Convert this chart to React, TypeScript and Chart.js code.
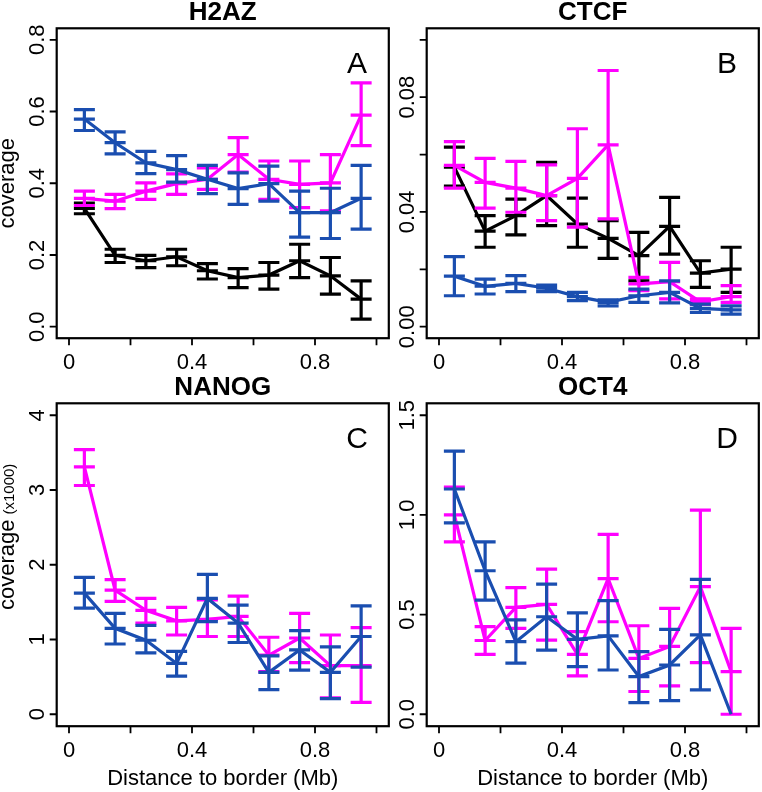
import React, { useEffect, useRef } from "react";
import { Chart, registerables } from "chart.js";

Chart.register(...registerables);

const PAGE_W = 762;
const PAGE_H = 792;
const FONT = '"Liberation Sans", Arial, Helvetica, sans-serif';

const MAGENTA = "#FF00FF";
const BLUE = "#1A4EB0";
const BLACK = "#000000";

// Distance to border (Mb) bin centres
const distances = [0.05, 0.15, 0.25, 0.35, 0.45, 0.55, 0.65, 0.75, 0.85, 0.95];

const xTicks = [0, 0.2, 0.4, 0.6, 0.8, 1.0];
const xTickLabels = ["0", "", "0.4", "", "0.8", ""];

// ---- Panel A: H2AZ ----
const h2azBlack = [0.33, 0.199, 0.184, 0.195, 0.156, 0.137, 0.144, 0.184, 0.142, 0.077];
const h2azBlackLow = [0.315, 0.179, 0.165, 0.17, 0.133, 0.109, 0.105, 0.137, 0.091, 0.021];
const h2azBlackHigh = [0.345, 0.216, 0.199, 0.216, 0.176, 0.162, 0.179, 0.23, 0.193, 0.128];
const h2azMagenta = [0.358, 0.35, 0.378, 0.399, 0.411, 0.48, 0.411, 0.397, 0.401, 0.59];
const h2azMagentaLow = [0.338, 0.329, 0.355, 0.369, 0.383, 0.431, 0.355, 0.332, 0.323, 0.505];
const h2azMagentaHigh = [0.378, 0.369, 0.401, 0.426, 0.443, 0.527, 0.462, 0.462, 0.48, 0.68];
const h2azBlue = [0.579, 0.513, 0.457, 0.438, 0.411, 0.385, 0.399, 0.318, 0.318, 0.358];
const h2azBlueLow = [0.547, 0.482, 0.427, 0.403, 0.371, 0.341, 0.35, 0.25, 0.246, 0.272];
const h2azBlueHigh = [0.605, 0.543, 0.489, 0.477, 0.45, 0.429, 0.448, 0.378, 0.386, 0.45];
const h2azYTicks = [0, 0.2, 0.4, 0.6, 0.8];
const h2azYTickLabels = ["0.0", "0.2", "0.4", "0.6", "0.8"];

// ---- Panel B: CTCF ----
const ctcfBlack = [0.0556, 0.0333, 0.0387, 0.0457, 0.0358, 0.0308, 0.0248, 0.035, 0.0187, 0.0201];
const ctcfBlackLow = [0.049, 0.0277, 0.032, 0.0352, 0.0277, 0.0238, 0.016, 0.0253, 0.0137, 0.012];
const ctcfBlackHigh = [0.0626, 0.0387, 0.0445, 0.0573, 0.0448, 0.037, 0.0329, 0.0451, 0.023, 0.0277];
const ctcfMagenta = [0.0562, 0.0503, 0.0483, 0.0457, 0.0517, 0.0634, 0.0149, 0.0157, 0.0087, 0.0105];
const ctcfMagentaLow = [0.0483, 0.0413, 0.0399, 0.037, 0.0347, 0.0376, 0.0126, 0.0097, 0.0078, 0.0085];
const ctcfMagentaHigh = [0.0645, 0.0587, 0.0576, 0.0564, 0.069, 0.0893, 0.0172, 0.0224, 0.0097, 0.0143];
const ctcfBlue = [0.0176, 0.0141, 0.0151, 0.0134, 0.0105, 0.0085, 0.0108, 0.012, 0.0064, 0.0059];
const ctcfBlueLow = [0.0108, 0.0114, 0.0122, 0.0122, 0.0091, 0.0073, 0.0085, 0.0083, 0.005, 0.0044];
const ctcfBlueHigh = [0.0244, 0.0166, 0.0178, 0.0145, 0.012, 0.0094, 0.0131, 0.016, 0.0079, 0.0073];
const ctcfYTicks = [0, 0.02, 0.04, 0.06, 0.08, 0.1];
const ctcfYTickLabels = ["0.00", "", "0.04", "", "0.08", ""];

// ---- Panel C: NANOG ----
const nanogMagenta = [3.31, 1.66, 1.39, 1.25, 1.27, 1.31, 0.79, 1.02, 0.65, 0.65];
const nanogMagentaLow = [3.06, 1.51, 1.22, 1.06, 1.04, 1.04, 0.57, 0.69, 0.22, 0.16];
const nanogMagentaHigh = [3.54, 1.8, 1.55, 1.43, 1.53, 1.58, 1.03, 1.35, 1.06, 1.16];
const nanogBlue = [1.62, 1.15, 0.99, 0.68, 1.55, 1.22, 0.56, 0.86, 0.56, 1.04];
const nanogBlueLow = [1.42, 0.94, 0.82, 0.51, 1.24, 0.96, 0.33, 0.59, 0.21, 0.63];
const nanogBlueHigh = [1.83, 1.35, 1.19, 0.84, 1.87, 1.46, 0.78, 1.12, 0.9, 1.45];
const nanogYTicks = [0, 1, 2, 3, 4];
const nanogYTickLabels = ["0", "1", "2", "3", "4"];

// ---- Panel D: OCT4 ----
const oct4Magenta = [1.0, 0.37, 0.536, 0.551, 0.3, 0.68, 0.28, 0.34, 0.64, 0.214];
const oct4MagentaLow = [0.865, 0.3, 0.431, 0.372, 0.192, 0.464, 0.114, 0.142, 0.259, 0.0];
const oct4MagentaHigh = [1.14, 0.44, 0.635, 0.728, 0.414, 0.902, 0.444, 0.531, 1.024, 0.431];
const oct4Blue = [1.13, 0.72, 0.364, 0.489, 0.376, 0.393, 0.189, 0.247, 0.398, 0.0];
const oct4BlueLow = [0.96, 0.573, 0.256, 0.322, 0.239, 0.222, 0.058, 0.068, 0.122, null];
const oct4BlueHigh = [1.32, 0.865, 0.473, 0.653, 0.509, 0.57, 0.314, 0.426, 0.677, null];
const oct4YTicks = [0, 0.5, 1.0, 1.5];
const oct4YTickLabels = ["0.0", "0.5", "1.0", "1.5"];

type Series = { color: string; mean: number[]; low: (number | null)[]; high: (number | null)[]; order: number };

type Panel = {
  title: string;
  letter: string;
  ylim: [number, number];
  yTicks: number[];
  yTickLabels: string[];
  box: { left: number; top: number; right: number; bottom: number };
  yTitle: boolean;
  yTitleSuffix: string;
  xTitle: boolean;
  series: Series[];
};

const TOP_ROW = { top: 28.3, bottom: 338.2 };
const BOTTOM_ROW = { top: 403.3, bottom: 726.2 };
const LEFT_COL = { left: 56.7, right: 388.8 };
const RIGHT_COL = { left: 426.7, right: 758.8 };

const panels: Panel[] = [
  {
    title: "H2AZ",
    letter: "A",
    ylim: [0, 0.8],
    yTicks: h2azYTicks,
    yTickLabels: h2azYTickLabels,
    box: { ...LEFT_COL, ...TOP_ROW },
    yTitle: true,
    yTitleSuffix: "",
    xTitle: false,
    series: [
      { color: BLACK, mean: h2azBlack, low: h2azBlackLow, high: h2azBlackHigh, order: 3 },
      { color: MAGENTA, mean: h2azMagenta, low: h2azMagentaLow, high: h2azMagentaHigh, order: 2 },
      { color: BLUE, mean: h2azBlue, low: h2azBlueLow, high: h2azBlueHigh, order: 1 },
    ],
  },
  {
    title: "CTCF",
    letter: "B",
    ylim: [0, 0.1],
    yTicks: ctcfYTicks,
    yTickLabels: ctcfYTickLabels,
    box: { ...RIGHT_COL, ...TOP_ROW },
    yTitle: false,
    yTitleSuffix: "",
    xTitle: false,
    series: [
      { color: BLACK, mean: ctcfBlack, low: ctcfBlackLow, high: ctcfBlackHigh, order: 3 },
      { color: MAGENTA, mean: ctcfMagenta, low: ctcfMagentaLow, high: ctcfMagentaHigh, order: 2 },
      { color: BLUE, mean: ctcfBlue, low: ctcfBlueLow, high: ctcfBlueHigh, order: 1 },
    ],
  },
  {
    title: "NANOG",
    letter: "C",
    ylim: [0, 4],
    yTicks: nanogYTicks,
    yTickLabels: nanogYTickLabels,
    box: { ...LEFT_COL, ...BOTTOM_ROW },
    yTitle: true,
    yTitleSuffix: "(x1000)",
    xTitle: true,
    series: [
      { color: MAGENTA, mean: nanogMagenta, low: nanogMagentaLow, high: nanogMagentaHigh, order: 2 },
      { color: BLUE, mean: nanogBlue, low: nanogBlueLow, high: nanogBlueHigh, order: 1 },
    ],
  },
  {
    title: "OCT4",
    letter: "D",
    ylim: [0, 1.5],
    yTicks: oct4YTicks,
    yTickLabels: oct4YTickLabels,
    box: { ...RIGHT_COL, ...BOTTOM_ROW },
    yTitle: false,
    yTitleSuffix: "",
    xTitle: true,
    series: [
      { color: MAGENTA, mean: oct4Magenta, low: oct4MagentaLow, high: oct4MagentaHigh, order: 2 },
      { color: BLUE, mean: oct4Blue, low: oct4BlueLow, high: oct4BlueHigh, order: 1 },
    ],
  },
];

const CAP_HALF = 10.5;
const LINE_W = 3.2;

const errorBarPlugin = {
  id: "errorBars",
  afterDatasetDraw(chart: any, args: any) {
    const ds = chart.data.datasets[args.index];
    const xs = chart.scales.x;
    const ys = chart.scales.y;
    const ctx = chart.ctx;
    ctx.save();
    ctx.strokeStyle = ds.borderColor;
    ctx.lineWidth = LINE_W;
    ctx.lineCap = "butt";
    ds.data.forEach((p: any, i: number) => {
      const lo = ds.errLow[i];
      const hi = ds.errHigh[i];
      if (lo == null || hi == null) return;
      const x = xs.getPixelForValue(p.x);
      const yl = ys.getPixelForValue(lo);
      const yh = ys.getPixelForValue(hi);
      const ym = ys.getPixelForValue(p.y);
      ctx.beginPath();
      ctx.moveTo(x, yl);
      ctx.lineTo(x, yh);
      for (const y of [yl, ym, yh]) {
        ctx.moveTo(x - CAP_HALF, y);
        ctx.lineTo(x + CAP_HALF, y);
      }
      ctx.stroke();
    });
    ctx.restore();
  },
};

const framePlugin = {
  id: "rFrame",
  afterDraw(chart: any) {
    const panel: Panel = chart.options.plugins.rFrame.panel;
    const ctx = chart.ctx;
    const xs = chart.scales.x;
    const ys = chart.scales.y;
    const { left, right, top, bottom } = chart.chartArea;
    ctx.save();
    ctx.strokeStyle = "#000";
    ctx.fillStyle = "#000";
    // box
    ctx.lineWidth = 2.2;
    ctx.strokeRect(left, top, right - left, bottom - top);
    // ticks
    ctx.lineWidth = 1.8;
    ctx.beginPath();
    xTicks.forEach((v) => {
      const x = xs.getPixelForValue(v);
      ctx.moveTo(x, bottom);
      ctx.lineTo(x, bottom + 7);
    });
    panel.yTicks.forEach((v) => {
      const y = ys.getPixelForValue(v);
      ctx.moveTo(left, y);
      ctx.lineTo(left - 7, y);
    });
    ctx.stroke();
    // x tick labels
    ctx.font = `22px ${FONT}`;
    ctx.textAlign = "center";
    ctx.textBaseline = "alphabetic";
    xTicks.forEach((v, i) => {
      const lab = xTickLabels[i];
      if (!lab) return;
      ctx.fillText(lab, xs.getPixelForValue(v), bottom + 31);
    });
    // y tick labels (rotated)
    panel.yTicks.forEach((v, i) => {
      const lab = panel.yTickLabels[i];
      if (!lab) return;
      const y = ys.getPixelForValue(v);
      ctx.save();
      ctx.translate(left - 12.5, y);
      ctx.rotate(-Math.PI / 2);
      ctx.textAlign = "center";
      ctx.fillText(lab, 0, 0);
      ctx.restore();
    });
    // title
    const cx = (left + right) / 2;
    ctx.font = `bold 26px ${FONT}`;
    ctx.textAlign = "center";
    ctx.fillText(panel.title, cx, top - 8.3);
    // panel letter
    ctx.font = `30px ${FONT}`;
    ctx.fillText(panel.letter, right - 31.8, top + 44.5);
    // x title
    if (panel.xTitle) {
      ctx.font = `22px ${FONT}`;
      ctx.fillText("Distance to border (Mb)", cx, bottom + 59);
    }
    // y title
    if (panel.yTitle) {
      const cy = (top + bottom) / 2;
      ctx.save();
      ctx.translate(left - 42.5, cy);
      ctx.rotate(-Math.PI / 2);
      ctx.font = `22px ${FONT}`;
      ctx.textAlign = "center";
      ctx.fillText("coverage", 0, 0);
      if (panel.yTitleSuffix) {
        const w = ctx.measureText("coverage").width;
        ctx.font = `15px ${FONT}`;
        ctx.textAlign = "left";
        ctx.fillText(panel.yTitleSuffix, w / 2 + 5, 0);
      }
      ctx.restore();
    }
    ctx.restore();
  },
};

function PanelChart({ panel }: { panel: Panel }) {
  const ref = useRef<HTMLCanvasElement | null>(null);
  useEffect(() => {
    if (!ref.current) return;
    const [lo, hi] = panel.ylim;
    const ext = 0.04 * (hi - lo);
    const chart = new Chart(ref.current, {
      type: "line",
      data: {
        datasets: panel.series.map((s) => ({
          data: distances.map((d, i) => ({ x: d, y: s.mean[i] })),
          errLow: s.low,
          errHigh: s.high,
          borderColor: s.color,
          backgroundColor: s.color,
          borderWidth: LINE_W,
          pointRadius: 0,
          tension: 0,
          fill: false,
          order: s.order,
        })) as any,
      },
      options: {
        responsive: false,
        animation: false,
        devicePixelRatio: 1,
        events: [],
        layout: {
          padding: {
            left: panel.box.left,
            top: panel.box.top,
            right: PAGE_W - panel.box.right,
            bottom: PAGE_H - panel.box.bottom,
          },
        },
        scales: {
          x: { type: "linear", min: -0.04, max: 1.04, display: false },
          y: { type: "linear", min: lo - ext, max: hi + ext, display: false },
        },
        plugins: {
          legend: { display: false },
          tooltip: { enabled: false },
          rFrame: { panel },
        } as any,
      },
      plugins: [errorBarPlugin, framePlugin],
    });
    return () => chart.destroy();
  }, [panel]);
  return (
    <canvas
      ref={ref}
      width={PAGE_W}
      height={PAGE_H}
      style={{ position: "absolute", left: 0, top: 0, width: PAGE_W, height: PAGE_H }}
    />
  );
}

export default function App() {
  return (
    <div style={{ position: "absolute", left: 0, top: 0, width: PAGE_W, height: PAGE_H, background: "#fff" }}>
      {panels.map((p) => (
        <PanelChart key={p.title} panel={p} />
      ))}
    </div>
  );
}
